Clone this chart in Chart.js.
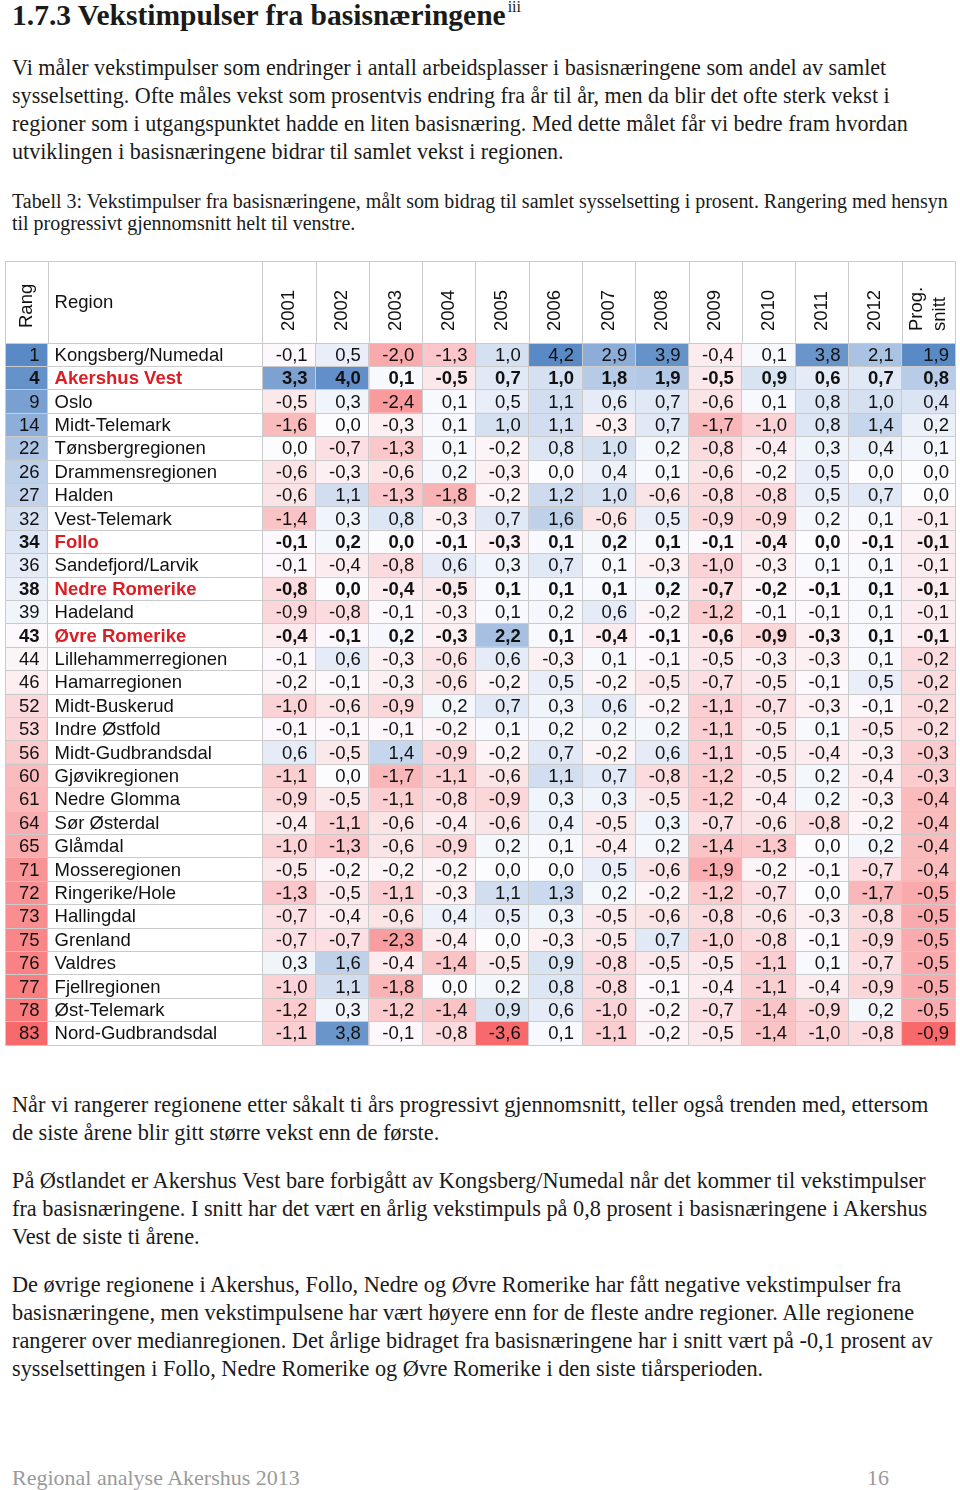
<!DOCTYPE html>
<html lang="no">
<head>
<meta charset="utf-8">
<title>Vekstimpulser fra basisnæringene</title>
<script src="https://cdn.jsdelivr.net/npm/chart.js@4.4.1/dist/chart.umd.min.js"></script>
<style>
  html, body { margin: 0; padding: 0; background: #fff; }
  body { width: 960px; height: 1490px; position: relative; overflow: hidden;
         font-family: "Liberation Serif", "Times New Roman", serif; color: #1a1a1a; }
  .ln { position: absolute; left: 12px; white-space: nowrap; line-height: 1; }
  #title { font-weight: bold; }
  #title sup { font-size: 16px; font-weight: normal; vertical-align: 13px; margin-left: 2px; }
  .footer { color: #9a9a9a; }
  #tableWrap { position: absolute; left: 0; top: 258px; width: 960px; height: 792px; }
</style>
</head>
<body>
<div id="tableWrap"><canvas id="heatTable"></canvas></div>
<script>
// Table data (Tabell 3)
const years = ['2001', '2002', '2003', '2004', '2005', '2006', '2007', '2008', '2009', '2010', '2011', '2012'];

const ranks = [1, 4, 9, 14, 22, 26, 27, 32, 34, 36, 38, 39, 43, 44, 46, 52, 53, 56, 60, 61, 64, 65, 71, 72, 73, 75, 76, 77, 78, 83];

const regions = [
  'Kongsberg/Numedal', 'Akershus Vest', 'Oslo', 'Midt-Telemark', 'Tønsbergregionen',
  'Drammensregionen', 'Halden', 'Vest-Telemark', 'Follo', 'Sandefjord/Larvik',
  'Nedre Romerike', 'Hadeland', 'Øvre Romerike', 'Lillehammerregionen', 'Hamarregionen',
  'Midt-Buskerud', 'Indre Østfold', 'Midt-Gudbrandsdal', 'Gjøvikregionen', 'Nedre Glomma',
  'Sør Østerdal', 'Glåmdal', 'Mosseregionen', 'Ringerike/Hole', 'Hallingdal',
  'Grenland', 'Valdres', 'Fjellregionen', 'Øst-Telemark', 'Nord-Gudbrandsdal'
];

// one row per region, one value per year 2001-2012
const yearValues = [
  [-0.1, 0.5, -2.0, -1.3, 1.0, 4.2, 2.9, 3.9, -0.4, 0.1, 3.8, 2.1],
  [3.3, 4.0, 0.1, -0.5, 0.7, 1.0, 1.8, 1.9, -0.5, 0.9, 0.6, 0.7],
  [-0.5, 0.3, -2.4, 0.1, 0.5, 1.1, 0.6, 0.7, -0.6, 0.1, 0.8, 1.0],
  [-1.6, 0.0, -0.3, 0.1, 1.0, 1.1, -0.3, 0.7, -1.7, -1.0, 0.8, 1.4],
  [0.0, -0.7, -1.3, 0.1, -0.2, 0.8, 1.0, 0.2, -0.8, -0.4, 0.3, 0.4],
  [-0.6, -0.3, -0.6, 0.2, -0.3, 0.0, 0.4, 0.1, -0.6, -0.2, 0.5, 0.0],
  [-0.6, 1.1, -1.3, -1.8, -0.2, 1.2, 1.0, -0.6, -0.8, -0.8, 0.5, 0.7],
  [-1.4, 0.3, 0.8, -0.3, 0.7, 1.6, -0.6, 0.5, -0.9, -0.9, 0.2, 0.1],
  [-0.1, 0.2, 0.0, -0.1, -0.3, 0.1, 0.2, 0.1, -0.1, -0.4, 0.0, -0.1],
  [-0.1, -0.4, -0.8, 0.6, 0.3, 0.7, 0.1, -0.3, -1.0, -0.3, 0.1, 0.1],
  [-0.8, 0.0, -0.4, -0.5, 0.1, 0.1, 0.1, 0.2, -0.7, -0.2, -0.1, 0.1],
  [-0.9, -0.8, -0.1, -0.3, 0.1, 0.2, 0.6, -0.2, -1.2, -0.1, -0.1, 0.1],
  [-0.4, -0.1, 0.2, -0.3, 2.2, 0.1, -0.4, -0.1, -0.6, -0.9, -0.3, 0.1],
  [-0.1, 0.6, -0.3, -0.6, 0.6, -0.3, 0.1, -0.1, -0.5, -0.3, -0.3, 0.1],
  [-0.2, -0.1, -0.3, -0.6, -0.2, 0.5, -0.2, -0.5, -0.7, -0.5, -0.1, 0.5],
  [-1.0, -0.6, -0.9, 0.2, 0.7, 0.3, 0.6, -0.2, -1.1, -0.7, -0.3, -0.1],
  [-0.1, -0.1, -0.1, -0.2, 0.1, 0.2, 0.2, 0.2, -1.1, -0.5, 0.1, -0.5],
  [0.6, -0.5, 1.4, -0.9, -0.2, 0.7, -0.2, 0.6, -1.1, -0.5, -0.4, -0.3],
  [-1.1, 0.0, -1.7, -1.1, -0.6, 1.1, 0.7, -0.8, -1.2, -0.5, 0.2, -0.4],
  [-0.9, -0.5, -1.1, -0.8, -0.9, 0.3, 0.3, -0.5, -1.2, -0.4, 0.2, -0.3],
  [-0.4, -1.1, -0.6, -0.4, -0.6, 0.4, -0.5, 0.3, -0.7, -0.6, -0.8, -0.2],
  [-1.0, -1.3, -0.6, -0.9, 0.2, 0.1, -0.4, 0.2, -1.4, -1.3, 0.0, 0.2],
  [-0.5, -0.2, -0.2, -0.2, 0.0, 0.0, 0.5, -0.6, -1.9, -0.2, -0.1, -0.7],
  [-1.3, -0.5, -1.1, -0.3, 1.1, 1.3, 0.2, -0.2, -1.2, -0.7, 0.0, -1.7],
  [-0.7, -0.4, -0.6, 0.4, 0.5, 0.3, -0.5, -0.6, -0.8, -0.6, -0.3, -0.8],
  [-0.7, -0.7, -2.3, -0.4, 0.0, -0.3, -0.5, 0.7, -1.0, -0.8, -0.1, -0.9],
  [0.3, 1.6, -0.4, -1.4, -0.5, 0.9, -0.8, -0.5, -0.5, -1.1, 0.1, -0.7],
  [-1.0, 1.1, -1.8, 0.0, 0.2, 0.8, -0.8, -0.1, -0.4, -1.1, -0.4, -0.9],
  [-1.2, 0.3, -1.2, -1.4, 0.9, 0.6, -1.0, -0.2, -0.7, -1.4, -0.9, 0.2],
  [-1.1, 3.8, -0.1, -0.8, -3.6, 0.1, -1.1, -0.2, -0.5, -1.4, -1.0, -0.8]
];

const progSnitt = [1.9, 0.8, 0.4, 0.2, 0.1, 0.0, 0.0, -0.1, -0.1, -0.1, -0.1, -0.1, -0.1, -0.2, -0.2,
  -0.2, -0.2, -0.3, -0.3, -0.4, -0.4, -0.4, -0.4, -0.5, -0.5, -0.5, -0.5, -0.5, -0.5, -0.9];

// Akershus regions are shown in red bold
const highlighted = ['Akershus Vest', 'Follo', 'Nedre Romerike', 'Øvre Romerike'];

// ---- page text ----
const titleText = '1.7.3 Vekstimpulser fra basisnæringene';
const introLines = [
  'Vi måler vekstimpulser som endringer i antall arbeidsplasser i basisnæringene som andel av samlet',
  'sysselsetting. Ofte måles vekst som prosentvis endring fra år til år, men da blir det ofte sterk vekst i',
  'regioner som i utgangspunktet hadde en liten basisnæring. Med dette målet får vi bedre fram hvordan',
  'utviklingen i basisnæringene bidrar til samlet vekst i regionen.'
];
const captionLines = [
  'Tabell 3: Vekstimpulser fra basisnæringene, målt som bidrag til samlet sysselsetting i prosent. Rangering med hensyn',
  'til progressivt gjennomsnitt helt til venstre.'
];
const outroLines = [
  'Når vi rangerer regionene etter såkalt ti års progressivt gjennomsnitt, teller også trenden med, ettersom',
  'de siste årene blir gitt større vekst enn de første.',
  'På Østlandet er Akershus Vest bare forbigått av Kongsberg/Numedal når det kommer til vekstimpulser',
  'fra basisnæringene. I snitt har det vært en årlig vekstimpuls på 0,8 prosent i basisnæringene i Akershus',
  'Vest de siste ti årene.',
  'De øvrige regionene i Akershus, Follo, Nedre og Øvre Romerike har fått negative vekstimpulser fra',
  'basisnæringene, men vekstimpulsene har vært høyere enn for de fleste andre regioner. Alle regionene',
  'rangerer over medianregionen. Det årlige bidraget fra basisnæringene har i snitt vært på -0,1 prosent av',
  'sysselsettingen i Follo, Nedre Romerike og Øvre Romerike i den siste tiårsperioden.'
];

// place a line so that its baseline lands on y (Liberation Serif ascent ~0.8375 em with line-height 1)
function addLine(text, baseline, size, cls) {
  const d = document.createElement('div');
  d.className = 'ln' + (cls ? ' ' + cls : '');
  d.style.fontSize = size + 'px';
  d.style.top = (baseline - 0.8375 * size) + 'px';
  d.textContent = text;
  document.body.appendChild(d);
  return d;
}

const t = addLine(titleText, 24, 29.5);
t.id = 'title';
const sup = document.createElement('sup');
sup.textContent = 'iii';
t.appendChild(sup);

introLines.forEach((l, i) => addLine(l, 76 + i * 28, 22.1));
captionLines.forEach((l, i) => addLine(l, 209 + i * 22, 19.95));
const outroBase = [1113, 1141, 1189, 1217, 1245, 1293, 1321, 1349, 1377];
outroLines.forEach((l, i) => addLine(l, outroBase[i], 22.3));
addLine('Regional analyse Akershus 2013', 1485, 22, 'footer');
const pg = addLine('16', 1485, 22, 'footer');
pg.style.left = '867px';

// ---- colour scales (red - white - blue) ----
const RED = [248, 105, 107];
const WHITE = [252, 252, 255];
const BLUE = [90, 138, 198];

function mix(a, b, t) {
  t = Math.max(0, Math.min(1, t));
  return 'rgb(' + a.map((c, i) => Math.round(c + (b[i] - c) * t)).join(',') + ')';
}
function scaleColor(v, min, mid, max, lowCol, highCol) {
  if (v <= mid) return mix(WHITE, lowCol, (mid - v) / (mid - min));
  return mix(WHITE, highCol, (v - mid) / (max - mid));
}

const allYearVals = yearValues.flat();
const yMinVal = Math.min(...allYearVals);
const yMaxVal = Math.max(...allYearVals);
const pMin = Math.min(...progSnitt);
const pMax = Math.max(...progSnitt);
const rMin = Math.min(...ranks);
const rMax = Math.max(...ranks);
const rMid = (rMin + rMax) / 2;

// column edges in "year column" units: Rang, Region, 12 years, Prog. snitt
const RANG_W = 0.8;
const REGION_W = 4.03;
const xStart = -(RANG_W + REGION_W);
const colEdges = [xStart, -REGION_W];
for (let i = 0; i <= years.length + 1; i++) colEdges.push(i);

const GRID = '#cbcbcb';
const SANS = '"Liberation Sans", Arial, Helvetica, sans-serif';
const HEADER_H = 82;

// ---- datasets: one floating-bar dataset per coloured column ----
const datasets = [];
datasets.push({
  label: 'Rang',
  data: ranks.map(() => [xStart, -REGION_W]),
  backgroundColor: ranks.map(r => scaleColor(r, rMin, rMid, rMax, BLUE, RED))
});
years.forEach((yr, j) => {
  datasets.push({
    label: yr,
    data: yearValues.map(() => [j, j + 1]),
    backgroundColor: yearValues.map(row => scaleColor(row[j], yMinVal, 0, yMaxVal, RED, BLUE))
  });
});
datasets.push({
  label: 'Prog. snitt',
  data: progSnitt.map(() => [years.length, years.length + 1]),
  backgroundColor: progSnitt.map(v => scaleColor(v, pMin, 0, pMax, RED, BLUE))
});

function fmt(v) {
  return v.toFixed(1).replace('.', ',');
}

// draws header, cell texts and header grid lines
const tablePlugin = {
  id: 'tableText',
  afterDraw(chart) {
    const ctx = chart.ctx;
    const xs = chart.scales.x;
    const ys = chart.scales.y;
    const area = chart.chartArea;
    const headTop = Math.round(area.top - HEADER_H) + 0.5;
    const px = v => xs.getPixelForValue(v);

    ctx.save();
    // header grid
    ctx.strokeStyle = GRID;
    ctx.lineWidth = 1;
    ctx.beginPath();
    ctx.moveTo(Math.round(px(colEdges[0])), headTop);
    ctx.lineTo(Math.round(px(colEdges[colEdges.length - 1])) + 1, headTop);
    colEdges.forEach(e => {
      const x = Math.round(px(e)) + 0.5;
      ctx.moveTo(x, headTop);
      ctx.lineTo(x, area.top);
    });
    ctx.stroke();

    // header texts
    ctx.fillStyle = '#111';
    ctx.font = '18.5px ' + SANS;
    const rotText = (txt, cx, bottom) => {
      ctx.save();
      ctx.translate(cx, bottom);
      ctx.rotate(-Math.PI / 2);
      ctx.textAlign = 'left';
      ctx.textBaseline = 'middle';
      ctx.fillText(txt, 0, 0);
      ctx.restore();
    };
    rotText('Rang', (px(xStart) + px(-REGION_W)) / 2 + 1, area.top - 15);
    ctx.textAlign = 'left';
    ctx.textBaseline = 'middle';
    ctx.fillText('Region', px(-REGION_W) + 7, area.top - 40);
    years.forEach((yr, j) => rotText(yr, (px(j) + px(j + 1)) / 2, area.top - 12));
    const pc = (px(years.length) + px(years.length + 1)) / 2;
    rotText('Prog.', pc - 11, area.top - 12);
    rotText('snitt', pc + 12, area.top - 12);

    // body cells
    regions.forEach((reg, i) => {
      const y = ys.getPixelForValue(i) + 1;
      const bold = highlighted.includes(reg);
      const weight = bold ? 'bold ' : '';
      ctx.font = weight + '18.5px ' + SANS;
      ctx.textBaseline = 'middle';
      ctx.fillStyle = '#111';
      ctx.textAlign = 'right';
      ctx.fillText(String(ranks[i]), px(-REGION_W) - 8, y);
      ctx.textAlign = 'left';
      ctx.fillStyle = bold ? '#dc1e24' : '#111';
      ctx.fillText(reg, px(-REGION_W) + 7, y);
      ctx.fillStyle = '#111';
      ctx.textAlign = 'right';
      yearValues[i].forEach((v, j) => ctx.fillText(fmt(v), px(j + 1) - 8, y));
      ctx.fillText(fmt(progSnitt[i]), px(years.length + 1) - 6, y);
    });
    ctx.restore();
  }
};

new Chart(document.getElementById('heatTable'), {
  type: 'bar',
  data: { labels: regions, datasets: datasets },
  options: {
    indexAxis: 'y',
    responsive: true,
    maintainAspectRatio: false,
    animation: false,
    events: [],
    datasets: {
      bar: { grouped: false, barPercentage: 1, categoryPercentage: 1, borderWidth: 0 }
    },
    layout: { padding: { top: 85, left: 5, right: 5, bottom: 5 } },
    plugins: {
      legend: { display: false },
      tooltip: { enabled: false }
    },
    scales: {
      x: {
        type: 'linear',
        min: xStart,
        max: years.length + 1,
        afterBuildTicks: axis => { axis.ticks = colEdges.map(v => ({ value: v })); },
        ticks: { display: false },
        grid: { color: GRID, drawTicks: false, z: 1 },
        border: { display: false }
      },
      y: {
        type: 'category',
        offset: true,
        ticks: { display: false },
        grid: { color: GRID, offset: true, drawTicks: false, z: 1 },
        border: { display: false }
      }
    }
  },
  plugins: [tablePlugin]
});
</script>
</body>
</html>
